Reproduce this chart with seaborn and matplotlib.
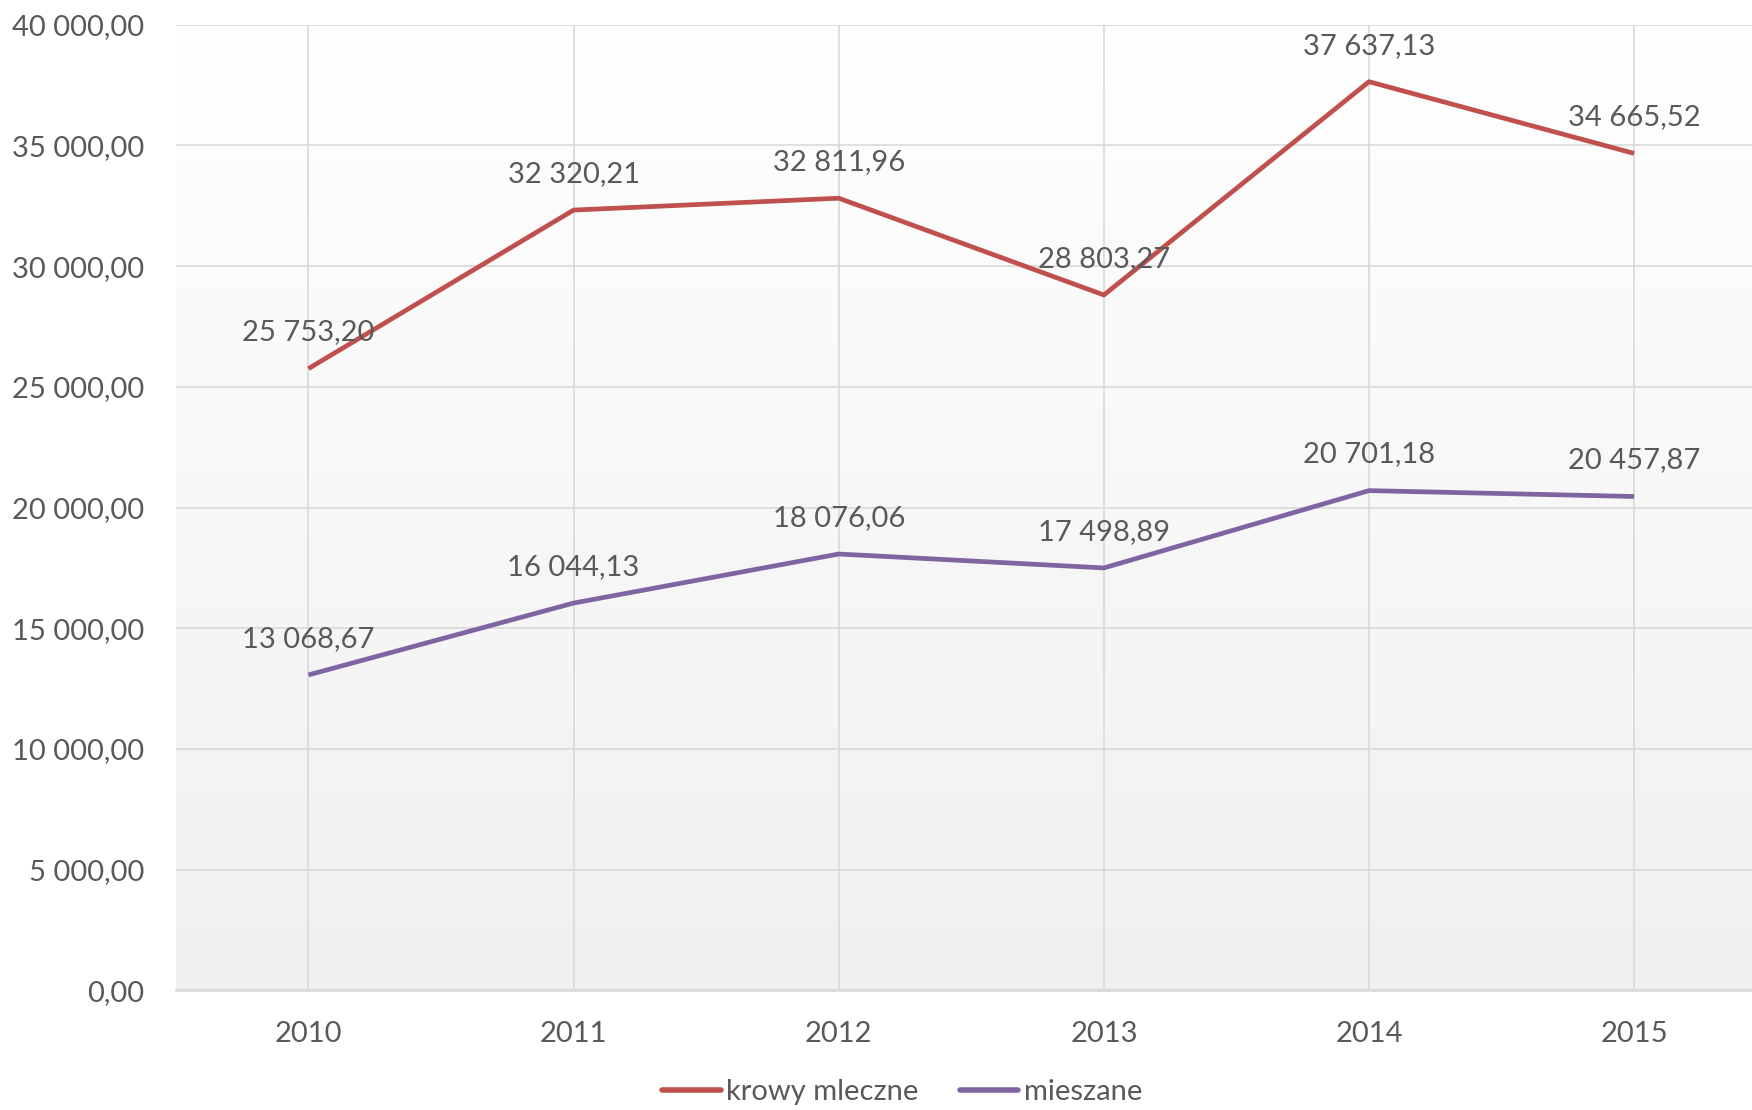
import pandas as pd
import matplotlib
matplotlib.use("Agg")
import matplotlib.pyplot as plt
import seaborn as sns
import numpy as np
from matplotlib.colors import LinearSegmentedColormap
from matplotlib.lines import Line2D
from matplotlib.ticker import FuncFormatter

# data
years = ["2010", "2011", "2012", "2013", "2014", "2015"]
krowy_mleczne = [25753.20, 32320.21, 32811.96, 28803.27, 37637.13, 34665.52]
mieszane = [13068.67, 16044.13, 18076.06, 17498.89, 20701.18, 20457.87]
series_names = ["krowy mleczne", "mieszane"]
colors = ["#C0504D", "#8064A2"]
y_ticks = [0, 5000, 10000, 15000, 20000, 25000, 30000, 35000, 40000]

TEXT = "#595959"
GRID = "#d9d9d9"


def fmt_pl(v):
    # polish number format: space thousands, comma decimal
    s = f"{v:,.2f}"
    return s.replace(",", " ").replace(".", ",")


def main():
    sns.set_style("white")
    plt.rcParams["font.family"] = ["Lato", "DejaVu Sans"]

    df = pd.DataFrame({
        "rok": years * 2,
        "wartosc": krowy_mleczne + mieszane,
        "typ": [series_names[0]] * len(years) + [series_names[1]] * len(years),
    })

    fig = plt.figure(figsize=(17.52, 11.10), dpi=100)
    ax = fig.add_axes([0.1004, 0.1077, 0.908, 0.8701])

    # gradient background of plot area
    cmap = LinearSegmentedColormap.from_list("bg", ["#ffffff", "#f0f0f0"])
    grad = np.linspace(0, 1, 256).reshape(-1, 1)
    ax.imshow(grad, extent=[0, 1, 0, 1], transform=ax.transAxes, cmap=cmap,
              aspect="auto", zorder=0, origin="upper")

    sns.lineplot(data=df, x="rok", y="wartosc", hue="typ", palette=colors,
                 linewidth=3.4, ax=ax, legend=False, zorder=3, sort=False)
    for ln in ax.get_lines():
        ln.set_solid_capstyle("butt")

    # data labels
    for vals in (krowy_mleczne, mieszane):
        for i, v in enumerate(vals):
            ax.annotate(fmt_pl(v), (i, v), xytext=(0, 26), textcoords="offset points",
                        ha="center", va="center", fontsize=21, color=TEXT, zorder=4)

    ax.set_xlim(-0.5, 5.5)
    ax.set_ylim(0, 40000)
    ax.set_yticks(y_ticks)
    ax.yaxis.set_major_formatter(FuncFormatter(lambda v, p: fmt_pl(v)))

    ax.grid(True, axis="both", color=GRID, linewidth=1.2, zorder=1)
    ax.set_axisbelow(True)
    for s in ["top", "right", "left"]:
        ax.spines[s].set_visible(False)
    ax.spines["bottom"].set_color(GRID)
    ax.spines["bottom"].set_linewidth(2)

    ax.tick_params(axis="both", length=0, labelsize=21, labelcolor=TEXT)
    ax.tick_params(axis="y", pad=23)
    ax.tick_params(axis="x", pad=22)
    ax.set_xlabel("")
    ax.set_ylabel("")

    handles = [Line2D([0], [0], color=c, linewidth=4) for c in colors]
    fig.legend(handles, series_names, loc="center", bbox_to_anchor=(0.515, 0.016),
               ncol=2, frameon=False, fontsize=21, labelcolor=TEXT,
               handlelength=2.0, handletextpad=0.2, columnspacing=1.4)

    fig.savefig("out.png", dpi=100)


if __name__ == "__main__":
    main()
